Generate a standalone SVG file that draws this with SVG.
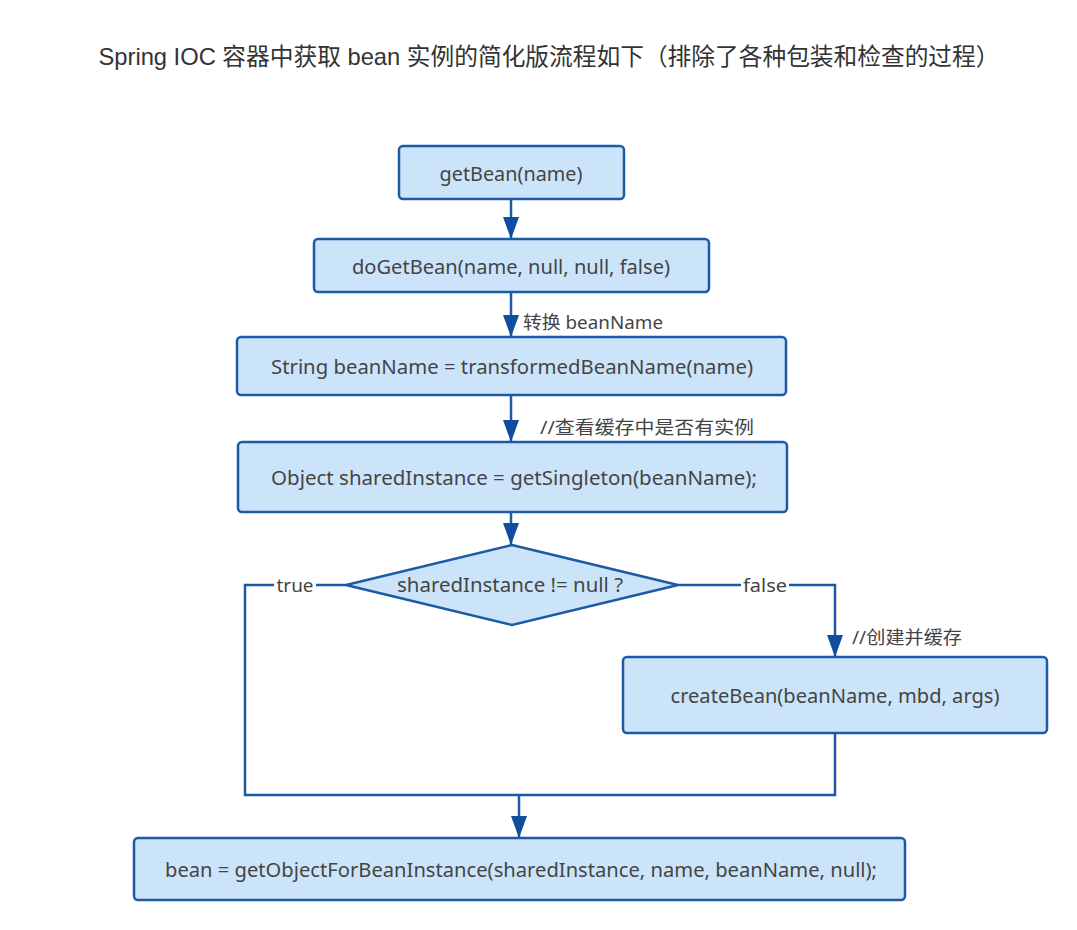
<svg xmlns="http://www.w3.org/2000/svg" width="1077" height="930" viewBox="0 0 1077 930">
<style>
.box{fill:#cce4fa;stroke:#1c5aa6;stroke-width:2.5}
.t{font-family:"Noto Sans","Open Sans","Noto Sans CJK SC",sans-serif;font-size:20px;fill:#444;text-anchor:middle}
.l{font-family:"Noto Sans","Noto Sans CJK SC",sans-serif;font-size:18px;fill:#444}
.c{fill:none;stroke:#1c5aa6;stroke-width:2.5}
</style>
<defs>
<marker id="arr" viewBox="0 0 22 16" refX="22" refY="8" markerWidth="22" markerHeight="16" markerUnits="userSpaceOnUse" orient="auto">
<path d="M0,0 L22,8 L0,16 Z" fill="#0f4d9e"/>
</marker>
</defs>
<rect width="1077" height="930" fill="#ffffff"/>
<text x="549" y="65" font-family="'Liberation Sans','Noto Sans CJK SC',sans-serif" font-size="24" fill="#333" text-anchor="middle" textLength="901" lengthAdjust="spacingAndGlyphs">Spring IOC 容器中获取 bean 实例的简化版流程如下（排除了各种包装和检查的过程）</text>
<g id="connectors">
<path class="c" d="M511,199 V239" marker-end="url(#arr)"/>
<path class="c" d="M511,292 V337" marker-end="url(#arr)"/>
<path class="c" d="M511,395 V442" marker-end="url(#arr)"/>
<path class="c" d="M511,512 V545" marker-end="url(#arr)"/>
<path class="c" d="M346,585 H245 V795 H835 V733"/>
<path class="c" d="M678,585 H835 V657" marker-end="url(#arr)"/>
<path class="c" d="M519,795 V838" marker-end="url(#arr)"/>
<rect x="274" y="574" width="42" height="22" fill="#fff"/>
<text class="l" x="295" y="592" text-anchor="middle" textLength="37" lengthAdjust="spacingAndGlyphs">true</text>
<rect x="741" y="574" width="48" height="22" fill="#fff"/>
<text class="l" x="765" y="592" text-anchor="middle" textLength="44" lengthAdjust="spacingAndGlyphs">false</text>
<text class="l" x="523" y="329" textLength="140" lengthAdjust="spacingAndGlyphs">转换 beanName</text>
<text class="l" x="540" y="434" textLength="214" lengthAdjust="spacingAndGlyphs">//查看缓存中是否有实例</text>
<text class="l" x="852" y="644" textLength="110" lengthAdjust="spacingAndGlyphs">//创建并缓存</text>
</g>
<g id="n1"><rect class="box" x="399" y="146" width="225" height="53" rx="4"/><text class="t" x="511" y="181" textLength="143" lengthAdjust="spacingAndGlyphs">getBean(name)</text></g>
<g id="n2"><rect class="box" x="314" y="239" width="395" height="53" rx="4"/><text class="t" x="511" y="274" textLength="318" lengthAdjust="spacingAndGlyphs">doGetBean(name, null, null, false)</text></g>
<g id="n3"><rect class="box" x="237" y="337" width="549" height="58" rx="4"/><text class="t" x="512" y="374" textLength="482" lengthAdjust="spacingAndGlyphs">String beanName = transformedBeanName(name)</text></g>
<g id="n4"><rect class="box" x="238" y="442" width="549" height="70" rx="4"/><text class="t" x="514" y="485" textLength="486" lengthAdjust="spacingAndGlyphs">Object sharedInstance = getSingleton(beanName);</text></g>
<g id="n5"><polygon class="box" points="512,545 678,585 512,625 346,585"/><text class="t" x="510" y="592" textLength="226" lengthAdjust="spacingAndGlyphs">sharedInstance != null ?</text></g>
<g id="n6"><rect class="box" x="623" y="657" width="424" height="76" rx="4"/><text class="t" x="835" y="703" textLength="329" lengthAdjust="spacingAndGlyphs">createBean(beanName, mbd, args)</text></g>
<g id="n7"><rect class="box" x="134" y="838" width="771" height="62" rx="4"/><text class="t" x="521" y="877" textLength="712" lengthAdjust="spacingAndGlyphs">bean = getObjectForBeanInstance(sharedInstance, name, beanName, null);</text></g>
</svg>
